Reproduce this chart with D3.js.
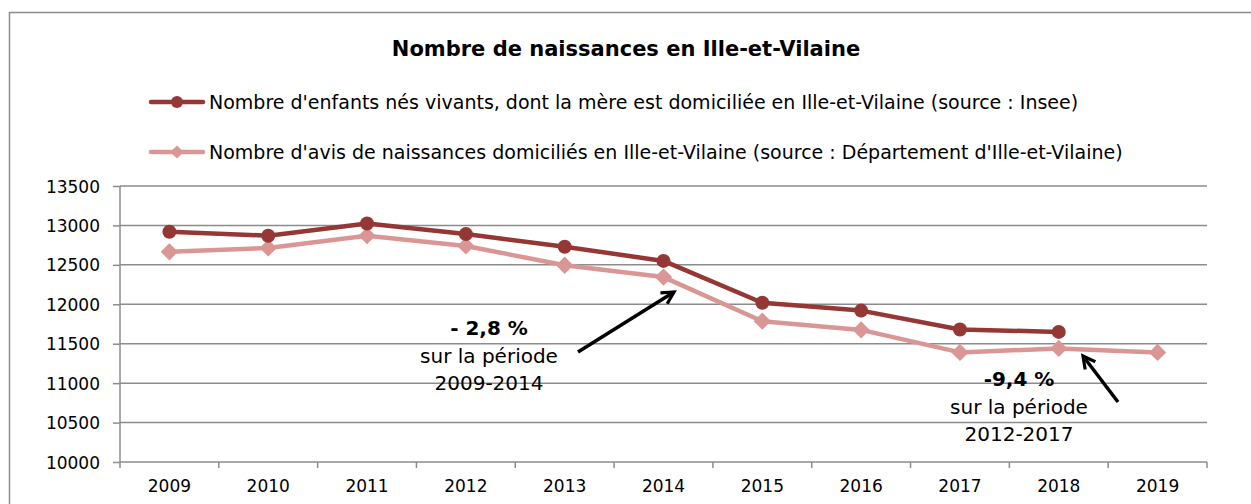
<!DOCTYPE html>
<html lang="fr">
<head>
<meta charset="UTF-8" />
<title>Nombre de naissances en Ille-et-Vilaine</title>
<script src="https://d3js.org/d3.v7.min.js"></script>
<style>
  html, body { margin: 0; padding: 0; background: #fff; overflow: hidden; }
  svg { display: block; font-family: 'DejaVu Sans', sans-serif; }
  .grid line { stroke: #8c8c8c; stroke-width: 1.5px; }
  .axis path, .axis line { stroke: #8c8c8c; stroke-width: 1.5px; }
  .axis text { font-size: 17px; fill: #000; font-family: 'DejaVu Sans', sans-serif; }
  .legend text { font-size: 19px; fill: #000; }
  .note { font-size: 20px; fill: #000; text-anchor: middle; }
</style>
</head>
<body>
<svg id="chart" width="1251" height="504"></svg>
<script>
// data
const years = ["2009","2010","2011","2012","2013","2014","2015","2016","2017","2018","2019"];
const insee = [12920, 12870, 13025, 12890, 12730, 12550, 12020, 11920, 11680, 11650, null];
const avis  = [12665, 12715, 12870, 12740, 12495, 12345, 11785, 11675, 11390, 11440, 11390];
const yTicks = [10000, 10500, 11000, 11500, 12000, 12500, 13000, 13500];
const seriesNames = [
  "Nombre d'enfants nés vivants, dont la mère est domiciliée en Ille-et-Vilaine (source : Insee)",
  "Nombre d'avis de naissances domiciliés en Ille-et-Vilaine (source : Département d'Ille-et-Vilaine)"
];

const darkRed = "#953735";
const pink = "#d99694";

const svg = d3.select("#chart");
const margin = { left: 120, right: 1207, top: 186, bottom: 462 };

// outer frame (cut off at right and bottom like the source)
svg.append("rect")
  .attr("x", 9.5).attr("y", 12.5)
  .attr("width", 1300).attr("height", 600)
  .attr("fill", "none").attr("stroke", "#8c8c8c").attr("stroke-width", 1.5);

svg.append("text")
  .attr("x", 626).attr("y", 56)
  .attr("text-anchor", "middle")
  .style("font-size", "21px").style("font-weight", "bold")
  .text("Nombre de naissances en Ille-et-Vilaine");

const x = d3.scaleBand().domain(years).range([margin.left, margin.right]).padding(0);
const y = d3.scaleLinear().domain([10000, 13500]).range([margin.bottom, margin.top]);

// gridlines
svg.append("g").attr("class", "grid")
  .selectAll("line")
  .data(yTicks.slice(1))
  .join("line")
  .attr("x1", margin.left).attr("x2", margin.right)
  .attr("y1", d => y(d)).attr("y2", d => y(d));

// y axis
const yAxis = svg.append("g").attr("class", "axis")
  .attr("transform", `translate(${margin.left},0)`)
  .call(d3.axisLeft(y).tickValues(yTicks).tickFormat(d3.format("d")).tickSize(7).tickPadding(13));
yAxis.select(".domain").attr("d", `M0,${margin.top}V${margin.bottom}`);
yAxis.selectAll("text").attr("dy", "0.36em");

// x axis with ticks between categories
const xAxis = svg.append("g").attr("class", "axis")
  .attr("transform", `translate(0,${margin.bottom})`)
  .call(d3.axisBottom(x).tickSize(0).tickPadding(18));
xAxis.select(".domain").attr("d", `M${margin.left},0H${margin.right}`);
xAxis.selectAll(".bound")
  .data(d3.range(years.length + 1))
  .join("line")
  .attr("class", "bound")
  .attr("x1", i => margin.left + i * x.bandwidth())
  .attr("x2", i => margin.left + i * x.bandwidth())
  .attr("y1", 0).attr("y2", 6);

const cx = (d, i) => x(years[i]) + x.bandwidth() / 2;
const line = d3.line().defined(d => d != null).x(cx).y(d => y(d));

// light series
svg.append("path").datum(avis)
  .attr("d", line).attr("fill", "none")
  .attr("stroke", pink).attr("stroke-width", 4.5).attr("stroke-linejoin", "round");
const diamond = d3.symbol().type(d3.symbolDiamond2).size(190);
svg.append("g").selectAll("path")
  .data(avis)
  .join("path")
  .attr("d", diamond)
  .attr("fill", pink)
  .attr("transform", (d, i) => `translate(${cx(d, i)},${y(d)})`);

// dark series
svg.append("path").datum(insee)
  .attr("d", line).attr("fill", "none")
  .attr("stroke", darkRed).attr("stroke-width", 4.5).attr("stroke-linejoin", "round");
svg.append("g").selectAll("circle")
  .data(insee.filter(d => d != null))
  .join("circle")
  .attr("cx", cx).attr("cy", d => y(d)).attr("r", 7)
  .attr("fill", darkRed);

// legend
const legend = svg.append("g").attr("class", "legend");
[darkRed, pink].forEach((c, i) => {
  const ly = 102 + i * 50;
  legend.append("line")
    .attr("x1", 151).attr("x2", 203).attr("y1", ly).attr("y2", ly)
    .attr("stroke", c).attr("stroke-width", 4.5).attr("stroke-linecap", "round");
  if (i === 0) {
    legend.append("circle").attr("cx", 177).attr("cy", ly).attr("r", 6).attr("fill", c);
  } else {
    legend.append("path").attr("d", d3.symbol().type(d3.symbolDiamond2).size(110))
      .attr("fill", c).attr("transform", `translate(177,${ly})`);
  }
  legend.append("text")
    .attr("x", 209).attr("y", ly).attr("dy", "0.36em")
    .text(seriesNames[i]);
});

// annotations
const notes = [
  { lines: ["- 2,8 %", "sur la période", "2009-2014"], x: 489, y: 328, arrow: [578, 352, 674, 292] },
  { lines: ["-9,4 %", "sur la période", "2012-2017"], x: 1019, y: 379, arrow: [1118, 402, 1083, 356] }
];
svg.append("defs").append("marker")
  .attr("id", "head").attr("viewBox", "0 0 10 10")
  .attr("refX", 9).attr("refY", 5)
  .attr("markerWidth", 8).attr("markerHeight", 8)
  .attr("markerUnits", "userSpaceOnUse")
  .attr("orient", "auto")
  .attr("overflow", "visible")
  .append("path").attr("d", "M-6,-3L9,5L-6,13")
  .attr("fill", "none").attr("stroke", "#000").attr("stroke-width", 4)
  .attr("stroke-linejoin", "miter");

notes.forEach(n => {
  n.lines.forEach((t, j) => {
    svg.append("text").attr("class", "note")
      .attr("x", n.x).attr("y", n.y + j * 27.5).attr("dy", "0.36em")
      .style("font-weight", j === 0 ? "bold" : "normal")
      .text(t);
  });
  const [x1, y1, x2, y2] = n.arrow;
  svg.append("line")
    .attr("x1", x1).attr("y1", y1).attr("x2", x2).attr("y2", y2)
    .attr("stroke", "#000").attr("stroke-width", 3.5)
    .attr("marker-end", "url(#head)");
});
</script>
</body>
</html>
